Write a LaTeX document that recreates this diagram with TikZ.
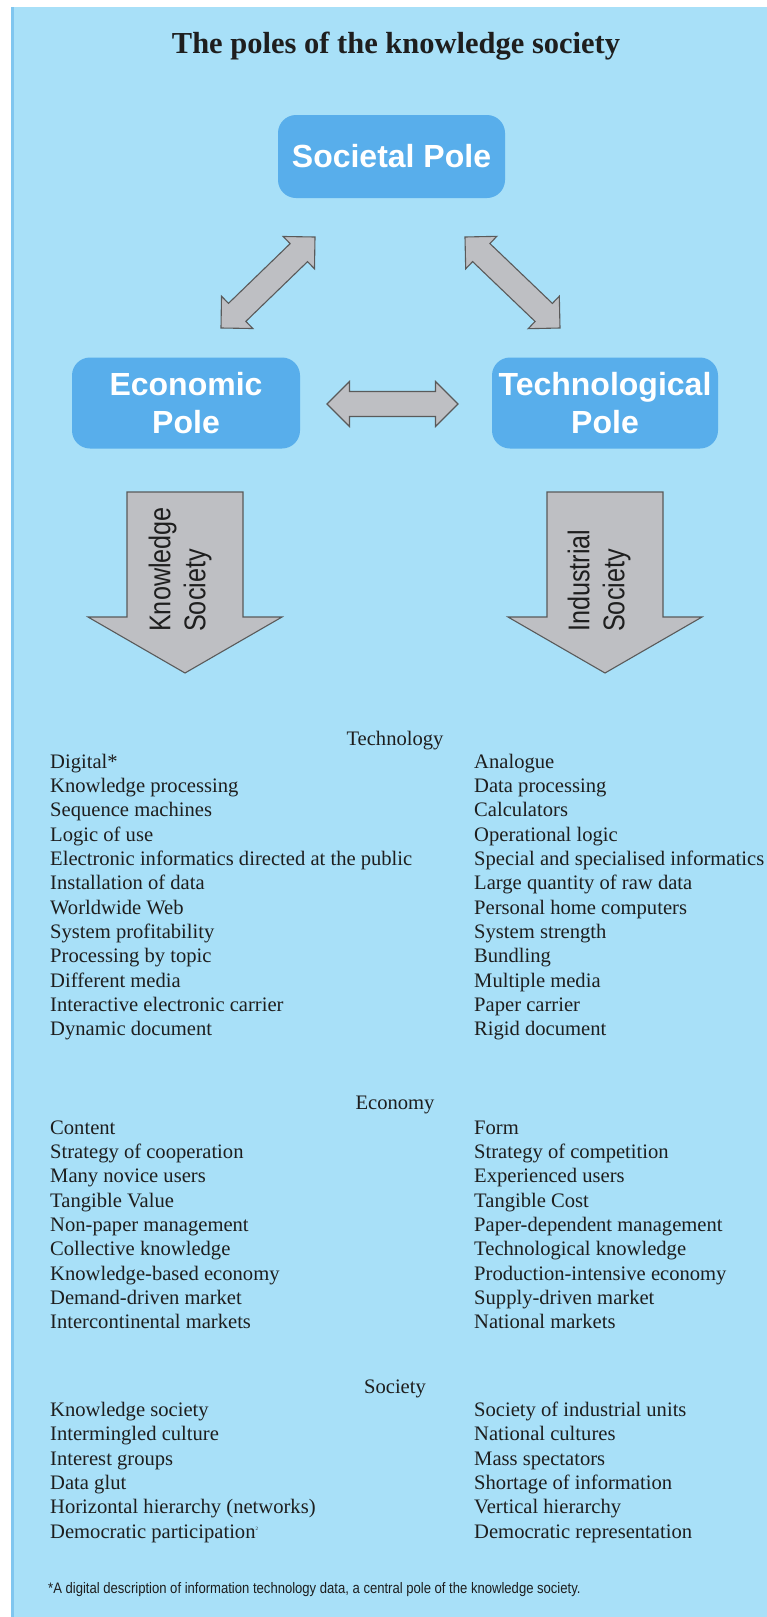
\documentclass[tikz,border=0pt]{standalone}
\usepackage{fontspec}
\setmainfont{Liberation Serif}
\setsansfont{Liberation Sans}
\newfontfamily\narrowsans[FakeStretch=0.84]{Liberation Sans}
\newfontfamily\notesans[FakeStretch=0.86]{Liberation Sans}
\usetikzlibrary{calc}

\definecolor{sky}{HTML}{A8E0F8}
\definecolor{skyedge}{HTML}{80C6EF}
\definecolor{polefill}{HTML}{58AEEB}
\definecolor{arrowfill}{HTML}{BEBFC3}
\definecolor{arrowline}{HTML}{5A5A5A}
\definecolor{ink}{HTML}{1E1E1E}

\tikzset{
  pole/.style={fill=polefill, rounded corners=18pt, text=white,
    font=\sffamily\bfseries\fontsize{32}{38}\selectfont, align=center, inner sep=0pt},
  blockarrow/.style={fill=arrowfill, draw=arrowline, line width=1.1pt, line join=miter},
  item/.style={font=\fontsize{20.6}{24.3}\selectfont, text=ink, inner sep=0pt, anchor=base west},
  heading/.style={font=\fontsize{20.6}{24.3}\selectfont, text=ink, inner sep=0pt, anchor=base},
  flowlabel/.style={font=\narrowsans\fontsize{30}{35}\selectfont, text=ink, align=left,
    inner sep=0pt, rotate=90, anchor=west},
}

% double-headed block arrow between two named coordinates
\newcommand\polearrow[2]{%
  \draw[blockarrow] (#1)
    -- ($(#1)!31.82pt!45:(#2)$)
    -- ($(#1)!25.74pt!29.05:(#2)$)
    -- ($(#2)!25.74pt!-29.05:(#1)$)
    -- ($(#2)!31.82pt!-45:(#1)$)
    -- (#2)
    -- ($(#2)!31.82pt!45:(#1)$)
    -- ($(#2)!25.74pt!29.05:(#1)$)
    -- ($(#1)!25.74pt!-29.05:(#2)$)
    -- ($(#1)!31.82pt!-45:(#2)$)
    -- cycle;}

% wide downward block arrow from a top centre to a tip
\newcommand\flowarrow[2]{%
  \draw[blockarrow] ($(#1)+(-58,0)$) -- ($(#1)+(58,0)$) -- ($(#1)+(58,125)$)
    -- ($(#1)+(97,125)$) -- (#2) -- ($(#1)+(-97,125)$) -- ($(#1)+(-58,125)$) -- cycle;}

\begin{document}
\begin{tikzpicture}[x=1pt,y=-1pt]
\useasboundingbox (0,0) rectangle (767,1617);
\fill[sky] (11,7) rectangle (767,1617);
\fill[skyedge] (11,7) rectangle (14,1617);

% title
\node[font=\bfseries\fontsize{30.5}{36}\selectfont, text=ink, inner sep=0pt] (title) at (396,46)
  {The poles of the knowledge society};

% the three poles
\node[pole, minimum width=227pt, minimum height=83pt] (soc) at (391.5,156.5) {Societal Pole};
\node[pole, minimum width=228pt, minimum height=91pt] (eco) at (186,403) {Economic\\Pole};
\node[pole, minimum width=226pt, minimum height=91pt] (tec) at (605,403) {Technological\\Pole};

% links between the poles
\coordinate (se1) at (221,328); \coordinate (se2) at (315,237);
\coordinate (st1) at (465,237); \coordinate (st2) at (560,328);
\coordinate (et1) at (327,404); \coordinate (et2) at (458,404);
\polearrow{se1}{se2}
\polearrow{st1}{st2}
\polearrow{et1}{et2}

% outcomes
\coordinate (ksTop) at (185,492); \coordinate (ksTip) at (185,673);
\coordinate (isTop) at (605,492); \coordinate (isTip) at (605,673);
\flowarrow{ksTop}{ksTip}
\flowarrow{isTop}{isTip}
\node[flowlabel] (ks) at (180,632) {Knowledge\\Society};
\node[flowlabel] (is) at (599,632) {Industrial\\Society};

% Technology
\node[heading] (hTech) at (395,745) {Technology};
\foreach \t [count=\i] in {{Digital*},{Knowledge processing},{Sequence machines},{Logic of use},
  {Electronic informatics directed at the public},{Installation of data},{Worldwide Web},
  {System profitability},{Processing by topic},{Different media},
  {Interactive electronic carrier},{Dynamic document}}
  \node[item] (tl\i) at (50,{768+(\i-1)*24.35}) {\t};
\foreach \t [count=\i] in {{Analogue},{Data processing},{Calculators},{Operational logic},
  {Special and specialised informatics},{Large quantity of raw data},{Personal home computers},
  {System strength},{Bundling},{Multiple media},{Paper carrier},{Rigid document}}
  \node[item] (tr\i) at (474,{768+(\i-1)*24.35}) {\t};

% Economy
\node[heading] (hEco) at (395,1109) {Economy};
\foreach \t [count=\i] in {{Content},{Strategy of cooperation},{Many novice users},{Tangible Value},
  {Non-paper management},{Collective knowledge},{Knowledge-based economy},
  {Demand-driven market},{Intercontinental markets}}
  \node[item] (el\i) at (50,{1134+(\i-1)*24.35}) {\t};
\foreach \t [count=\i] in {{Form},{Strategy of competition},{Experienced users},{Tangible Cost},
  {Paper-dependent management},{Technological knowledge},{Production-intensive economy},
  {Supply-driven market},{National markets}}
  \node[item] (er\i) at (474,{1134+(\i-1)*24.35}) {\t};

% Society
\node[heading] (hSoc) at (395,1393) {Society};
\foreach \t [count=\i] in {{Knowledge society},{Intermingled culture},{Interest groups},{Data glut},
  {Horizontal hierarchy (networks)},{Democratic participation\textsuperscript{\tiny 2}}}
  \node[item] (sl\i) at (50,{1416.5+(\i-1)*24.35}) {\t};
\foreach \t [count=\i] in {{Society of industrial units},{National cultures},{Mass spectators},
  {Shortage of information},{Vertical hierarchy},{Democratic representation}}
  \node[item] (sr\i) at (474,{1416.5+(\i-1)*24.35}) {\t};

% footnote
\node[font=\notesans\fontsize{15.2}{18}\selectfont, text=ink, anchor=west, inner sep=0pt] (note)
  at (48,1590) {*A digital description of information technology data, a central pole of the knowledge society.};
\end{tikzpicture}
\end{document}
